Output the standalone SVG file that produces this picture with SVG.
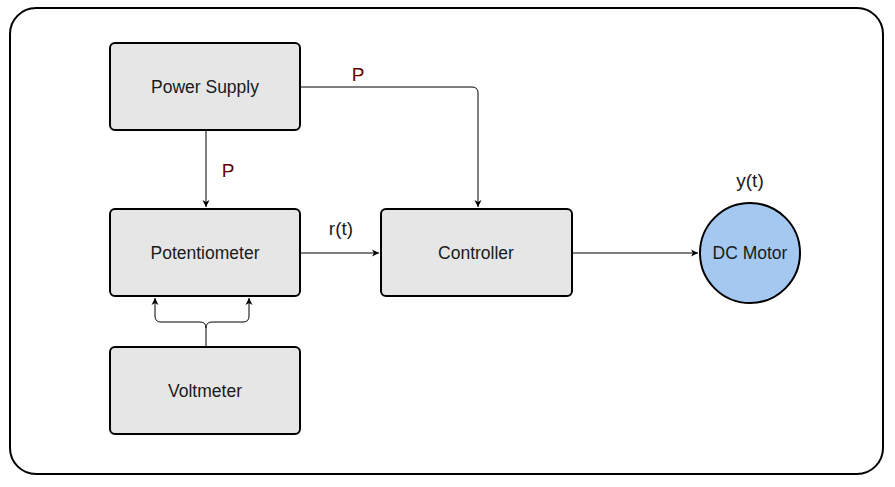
<svg xmlns="http://www.w3.org/2000/svg" width="895" height="487" viewBox="0 0 895 487">
<defs>
<marker id="arr" markerWidth="10" markerHeight="10" refX="8" refY="5" orient="auto" markerUnits="userSpaceOnUse">
<path d="M1,1.5 L8,5 L1,8.5 L3,5 Z" fill="#000"/>
</marker>
</defs>
<style>
.box{fill:#e6e6e6;stroke:#000;stroke-width:2}
.t{font-family:"Liberation Sans",Arial,sans-serif;font-size:17.5px;fill:#1a1a1a;text-anchor:middle;dominant-baseline:central}
.lab{font-family:"Liberation Sans",Arial,sans-serif;font-size:19px;fill:#1a1a1a;text-anchor:middle;dominant-baseline:central}
.p{fill:#660000}
.c{fill:none;stroke:#000;stroke-width:1}
</style>
<rect x="10" y="8" width="873" height="466" rx="26" ry="26" fill="#fff" stroke="#000" stroke-width="2"/>
<g id="connectors">
<path class="c" d="M300,87 H472 Q478,87 478,93 V207" marker-end="url(#arr)"/>
<path class="c" d="M206,130 V207" marker-end="url(#arr)"/>
<path class="c" d="M300,253 H379" marker-end="url(#arr)"/>
<path class="c" d="M572,253 H698" marker-end="url(#arr)"/>
<path class="c" d="M206,347 V328 Q206,322 200,322 H161 Q155,322 155,316 V298" marker-end="url(#arr)"/>
<path class="c" d="M206,328 Q206,322 212,322 H243 Q249,322 249,316 V298" marker-end="url(#arr)"/>
<text class="lab p" x="358" y="74">P</text>
<text class="lab p" x="228" y="170">P</text>
<text class="lab" x="341" y="228">r(t)</text>
<text class="lab" x="750" y="180">y(t)</text>
</g>
<g id="power-supply">
<rect class="box" x="110" y="43" width="190" height="87" rx="5"/>
<text class="t" x="205" y="87">Power Supply</text>
</g>
<g id="potentiometer">
<rect class="box" x="110" y="209" width="190" height="87" rx="5"/>
<text class="t" x="205" y="253">Potentiometer</text>
</g>
<g id="voltmeter">
<rect class="box" x="110" y="347" width="190" height="87" rx="5"/>
<text class="t" x="205" y="391">Voltmeter</text>
</g>
<g id="controller">
<rect class="box" x="381" y="209" width="191" height="87" rx="5"/>
<text class="t" x="476" y="253">Controller</text>
</g>
<g id="dc-motor">
<circle cx="750" cy="253" r="50" fill="#a4c8f0" stroke="#000" stroke-width="2"/>
<text class="t" x="750" y="253">DC Motor</text>
</g>
</svg>
